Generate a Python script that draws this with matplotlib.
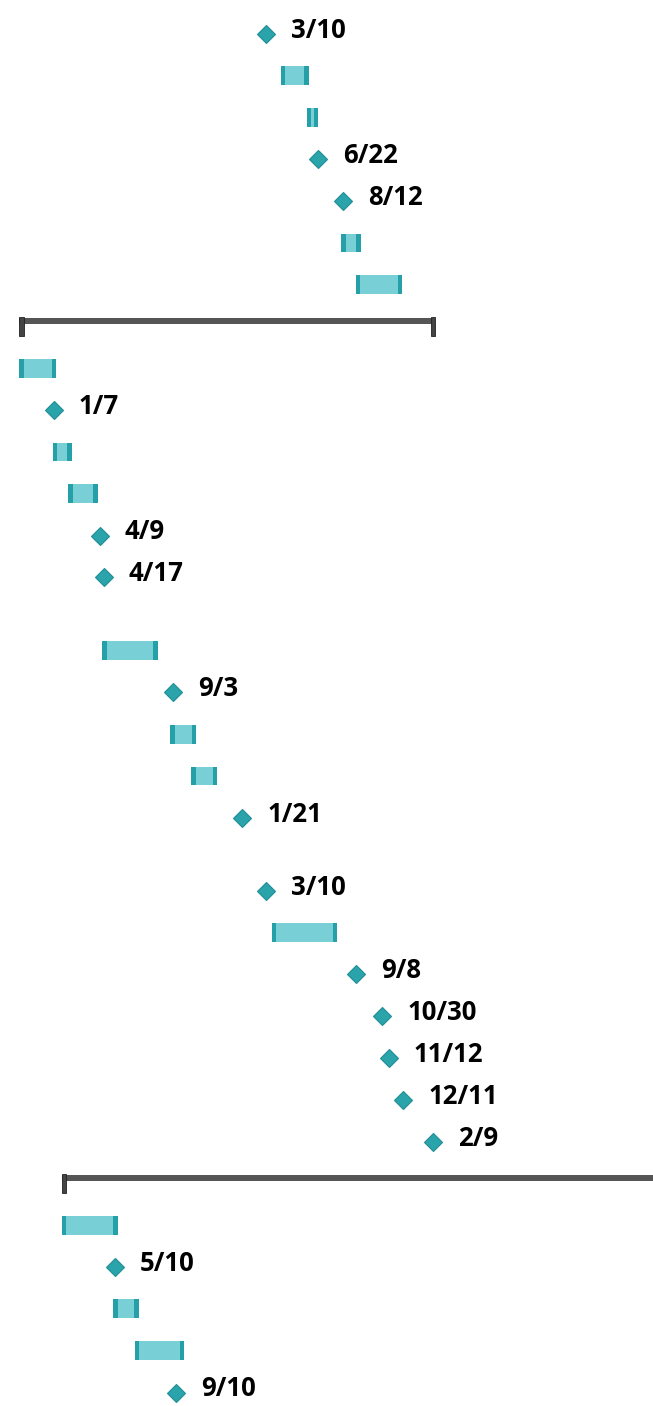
import pandas as pd
import matplotlib
matplotlib.use('Agg')
import matplotlib.pyplot as plt
import matplotlib.dates as mdates
from matplotlib.patches import Rectangle

plt.rcParams['font.family'] = ['Open Sans', 'DejaVu Sans']

# rows: m = milestone, b = task bar, s = summary
rows = [0, 1, 2, 3, 4, 5, 6, 7, 8, 9, 10, 11, 12, 13,
        14.75, 15.75, 16.75, 17.75, 18.75,
        20.5, 21.5, 22.5, 23.5, 24.5, 25.5, 26.5, 27.5,
        28.5, 29.5, 30.5, 31.5, 32.5]
kinds = ['m', 'b', 'b', 'm', 'm', 'b', 'b', 's', 'b', 'm', 'b', 'b', 'm', 'm',
         'b', 'm', 'b', 'b', 'm',
         'm', 'b', 'm', 'm', 'm', 'm', 'm', 's',
         'b', 'm', 'b', 'b', 'm']
starts = ['2022-03-10', '2022-04-09', '2022-05-31', '2022-06-22', '2022-08-12',
          '2022-08-08', '2022-09-07', '2020-10-29', '2020-10-29', '2021-01-07',
          '2021-01-04', '2021-02-05', '2021-04-09', '2021-04-17',
          '2021-04-14', '2021-09-03', '2021-08-29', '2021-10-10', '2022-01-21',
          '2022-03-10', '2022-03-21', '2022-09-08', '2022-10-30', '2022-11-12',
          '2022-12-11', '2023-02-09', '2021-01-23',
          '2021-01-23', '2021-05-10', '2021-05-06', '2021-06-19', '2021-09-10']
ends = [None, '2022-06-04', '2022-06-23', None, None,
        '2022-09-17', '2022-12-09', '2023-02-14', '2021-01-12', None,
        '2021-02-12', '2021-04-05', None, None,
        '2021-08-04', None, '2021-10-20', '2021-12-02', None,
        None, '2022-07-31', None, None, None,
        None, None, '2024-12-31',
        '2021-05-15', None, '2021-06-27', '2021-09-26', None]

fig = plt.figure(figsize=(6.53, 14.06), dpi=100)
ax = fig.add_axes([0, 0, 1, 1])

ref = mdates.date2num(pd.Timestamp('2021-01-07'))
px_day = 0.4967
ax.set_xlim(ref - 54 / px_day, ref + (653 - 54) / px_day)
ax.set_ylim((1406 - 34) / 41.8, -34 / 41.8)
ax.axis('off')

cap = 9  # days, end caps of bars
bar_h = 0.45
for y, k, s, e in zip(rows, kinds, starts, ends):
    x0 = mdates.date2num(pd.Timestamp(s))
    if k == 'm':
        ax.plot(x0, y, marker='D', ms=9, color='#2aa3ab', mec='#1f8f97', mew=0.8)
        lab = pd.Timestamp(s)
        ax.annotate(f'{lab.month}/{lab.day}', (x0, y), xytext=(18, 2.6),
                    textcoords='offset points', ha='left', va='center',
                    fontsize=18.5, fontweight='bold', color='black')
    elif k == 'b':
        x1 = mdates.date2num(pd.Timestamp(e))
        ax.add_patch(Rectangle((x0, y - bar_h / 2), x1 - x0, bar_h,
                               facecolor='#79cfd6', edgecolor='none'))
        for cx in (x0, x1 - cap):
            ax.add_patch(Rectangle((cx, y - bar_h / 2), cap, bar_h,
                                   facecolor='#26a0a8', edgecolor='none'))
    else:
        x1 = mdates.date2num(pd.Timestamp(e))
        top = y - 0.22
        ax.add_patch(Rectangle((x0, top + 0.02), x1 - x0, 0.14,
                               facecolor='#555555', edgecolor='none'))
        for cx in (x0, x1 - cap):
            ax.add_patch(Rectangle((cx, top), cap, 0.44,
                                   facecolor='#444444', edgecolor='#222222', lw=0.6))

fig.savefig('out.png', dpi=100)
